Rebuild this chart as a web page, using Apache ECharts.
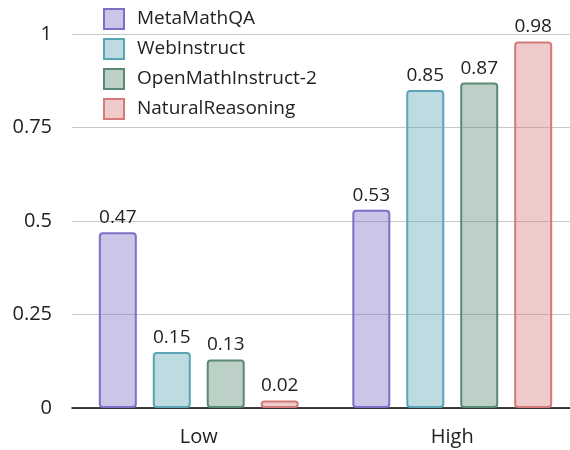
<!DOCTYPE html>
<html>
<head>
<meta charset="utf-8">
<script src="https://cdn.jsdelivr.net/npm/echarts@6/dist/echarts.min.js"></script>
<style>
  html, body { margin: 0; padding: 0; background: #fff; overflow: hidden; }
  #main { width: 579px; height: 450px; }
</style>
</head>
<body>
<div id="main"></div>
<script>
// 数据
var categories = ['Low', 'High'];
var seriesNames = ['MetaMathQA', 'WebInstruct', 'OpenMathInstruct-2', 'NaturalReasoning'];
var metaMathQA = [0.47, 0.53];
var webInstruct = [0.15, 0.85];
var openMathInstruct2 = [0.13, 0.87];
var naturalReasoning = [0.02, 0.98];
var yTicks = [0, 0.25, 0.5, 0.75, 1];

// 边框颜色 / 填充
var borderColors = ['#7c6fc6', '#5aa5b5', '#5a8a72', '#d47a7a'];
var fillColors = ['rgba(124,111,198,0.4)', 'rgba(90,165,181,0.4)', 'rgba(90,138,114,0.4)', 'rgba(212,122,122,0.4)'];
var allData = [metaMathQA, webInstruct, openMathInstruct2, naturalReasoning];

var font = 'Open Sans';

function makeSeries(i) {
  return {
    name: seriesNames[i],
    type: 'bar',
    data: allData[i],
    barWidth: 38,
    barGap: '42%',
    itemStyle: {
      color: fillColors[i],
      borderColor: borderColors[i],
      borderWidth: 2,
      borderRadius: 3
    },
    label: {
      show: true,
      position: 'top',
      distance: 5,
      color: '#222',
      fontFamily: font,
      fontSize: 19
    }
  };
}

// 容器比窗口宽 9px，让右侧网格线延伸出画面
var myChart = echarts.init(document.getElementById('main'));
var option = {
  animation: false,
  color: borderColors,
  legend: {
    orient: 'vertical',
    left: 98,
    top: 3,
    itemWidth: 20,
    itemHeight: 20,
    itemGap: 8,
    icon: 'rect',
    textStyle: { fontFamily: font, fontSize: 19, color: '#222', padding: [0, 0, 0, 8] },
    data: seriesNames.map(function (n, i) {
      return { name: n, itemStyle: { color: fillColors[i], borderColor: borderColors[i], borderWidth: 2 } };
    })
  },
  grid: { left: 72, right: 0, top: 34, bottom: 42, containLabel: false },
  xAxis: {
    type: 'category',
    data: categories,
    axisLine: { lineStyle: { color: '#000', width: 1.5 } },
    axisTick: { show: false },
    axisLabel: { fontFamily: font, fontSize: 20, color: '#222', margin: 19 }
  },
  yAxis: {
    type: 'value',
    min: 0,
    max: 1,
    interval: 0.25,
    axisLine: { show: false },
    axisTick: { show: false },
    splitLine: { lineStyle: { color: '#c8c8c8', width: 1 } },
    axisLabel: {
      fontFamily: font, fontSize: 20, color: '#222', margin: 20,
      formatter: function (v) { return yTicks.indexOf(v) >= 0 ? String(v) : ''; }
    }
  },
  series: [0, 1, 2, 3].map(makeSeries)
};
myChart.setOption(option);
</script>
</body>
</html>
